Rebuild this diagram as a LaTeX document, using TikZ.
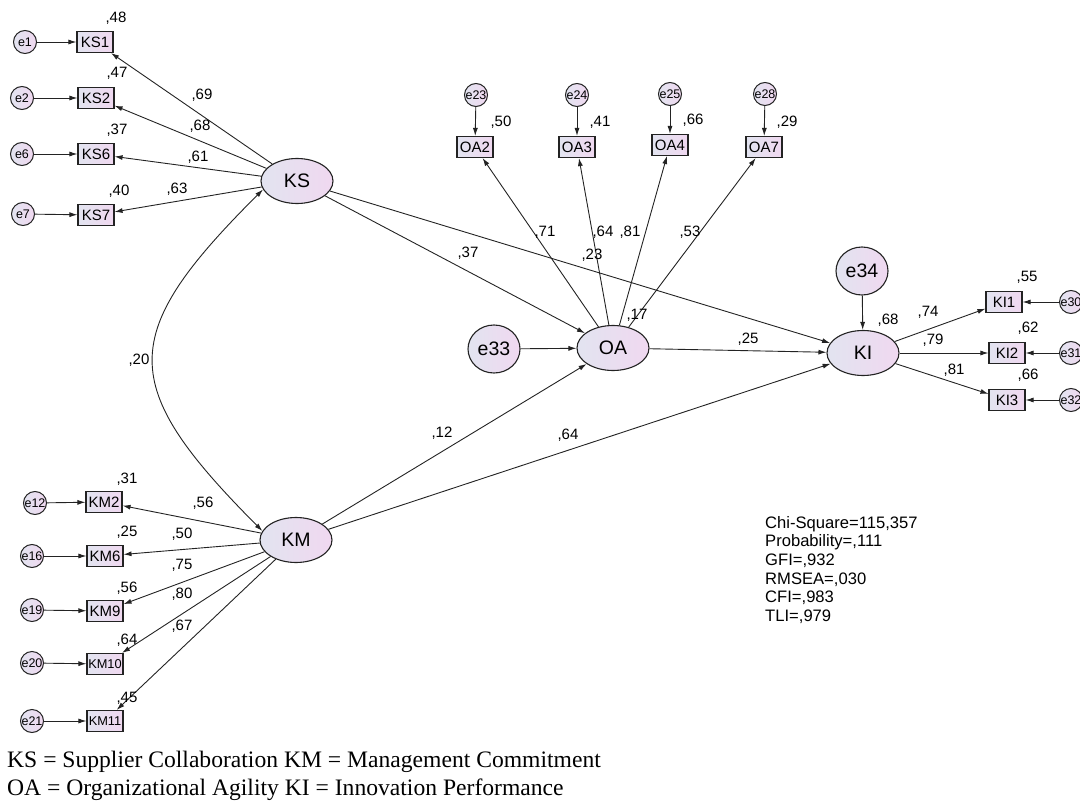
\documentclass[tikz,border=0pt]{standalone}
\usepackage{fontspec}
\setmainfont{Liberation Sans}
\newfontfamily\legfont{Liberation Serif}
\usetikzlibrary{arrows.meta,shapes.geometric}
\definecolor{shL}{RGB}{226,228,240}
\definecolor{shR}{RGB}{240,216,240}
\definecolor{ln}{RGB}{35,35,35}
\begin{document}
\begin{tikzpicture}[x=1pt,y=-1pt,
  lat/.style={ellipse, draw=ln, line width=1.1pt, left color=shL, right color=shR, minimum width=72pt, minimum height=45pt, inner sep=0pt, font=\fontsize{19.5}{19.5}\selectfont},
  err/.style={circle, draw=ln, line width=1pt, left color=shL, right color=shR, minimum size=23pt, inner sep=0pt, font=\fontsize{12.5}{12.5}\selectfont},
  bigerr/.style={ellipse, draw=ln, line width=1.1pt, left color=shL, right color=shR, minimum width=52pt, minimum height=48pt, inner sep=0pt, font=\fontsize{19.5}{19.5}\selectfont},
  ind/.style={rectangle, draw=ln, line width=1.1pt, left color=shL, right color=shR, minimum width=36pt, minimum height=21pt, inner sep=0pt, font=\fontsize{15}{15}\selectfont},
  indsm/.style={ind, font=\fontsize{12.8}{12.8}\selectfont},
  val/.style={inner sep=0pt, font=\fontsize{15}{15}\selectfont},
  arr/.style={-{Latex[length=8pt,width=5pt]}, draw=ln, line width=0.9pt},
  dbl/.style={{Latex[length=8pt,width=5pt]}-{Latex[length=8pt,width=5pt]}, draw=ln, line width=0.9pt},
]
\useasboundingbox (0,0) rectangle (1080,803);

% latent variables
\node[lat] (KS) at (297,181) {KS};
\node[lat] (KM) at (296,540) {KM};
\node[lat] (OA) at (613,348) {OA};
\node[lat] (KI) at (863,353) {KI};
\node[bigerr] (e33) at (494,349) {e33};
\node[bigerr] (e34) at (862,271) {e34};

% KS indicators
\node[ind] (KS1) at (95,42) {KS1};
\node[ind] (KS2) at (96,98) {KS2};
\node[ind] (KS6) at (96,154) {KS6};
\node[ind] (KS7) at (96,215) {KS7};
\node[err] (e1) at (25,42) {e1};
\node[err] (e2) at (22,98) {e2};
\node[err] (e6) at (22,154) {e6};
\node[err] (e7) at (23,214) {e7};

% KM indicators
\node[ind] (KM2) at (104,502) {KM2};
\node[ind] (KM6) at (105,556) {KM6};
\node[ind] (KM9) at (105,611) {KM9};
\node[indsm] (KM10) at (105,664) {KM10};
\node[indsm] (KM11) at (105,721) {KM11};
\node[err] (e12) at (35,503) {e12};
\node[err] (e16) at (32,556) {e16};
\node[err] (e19) at (32,610) {e19};
\node[err] (e20) at (32,663) {e20};
\node[err] (e21) at (32,721) {e21};

% OA indicators
\node[ind] (OA2) at (475,147) {OA2};
\node[ind] (OA3) at (577,147) {OA3};
\node[ind] (OA4) at (670,145) {OA4};
\node[ind] (OA7) at (764,147) {OA7};
\node[err] (e23) at (476,95) {e23};
\node[err] (e24) at (577,95) {e24};
\node[err] (e25) at (670,94) {e25};
\node[err] (e28) at (765,94) {e28};

% KI indicators
\node[ind] (KI1) at (1004,302) {KI1};
\node[ind] (KI2) at (1007,353) {KI2};
\node[ind] (KI3) at (1007,400) {KI3};
\node[err] (e30) at (1071,302) {e30};
\node[err] (e31) at (1071,353) {e31};
\node[err] (e32) at (1071,400) {e32};

% measurement arrows
\foreach \e/\i in {e1/KS1,e2/KS2,e6/KS6,e7/KS7,e12/KM2,e16/KM6,e19/KM9,e20/KM10,e21/KM11,e23/OA2,e24/OA3,e25/OA4,e28/OA7,e30/KI1,e31/KI2,e32/KI3}
  \draw[arr] (\e) -- (\i);
\foreach \i in {KS1,KS2,KS6,KS7}
  \draw[arr] (KS) -- (\i);
\foreach \i in {KM2,KM6,KM9,KM10,KM11}
  \draw[arr] (KM) -- (\i);
\foreach \i in {OA2,OA3,OA4,OA7}
  \draw[arr] (OA) -- (\i);
\foreach \i in {KI1,KI2,KI3}
  \draw[arr] (KI) -- (\i);

% structural arrows
\draw[arr] (KS) -- (OA);
\draw[arr] (KS) -- (KI);
\draw[arr] (KM) -- (OA);
\draw[arr] (KM) -- (KI);
\draw[arr] (OA) -- (KI);
\draw[arr] (e33) -- (OA);
\draw[arr] (e34) -- (KI);

% covariance
\draw[dbl] (KS.194) .. controls (117,335) and (117,385) .. (KM.165);

% values
\node[val] (v1) at (116,18) {,48};
\node[val] (v2) at (117,73) {,47};
\node[val] (v3) at (117,130) {,37};
\node[val] (v4) at (119,191) {,40};
\node[val] (l1) at (202,95) {,69};
\node[val] (l2) at (200,126) {,68};
\node[val] (l3) at (198,157) {,61};
\node[val] (l4) at (177,189) {,63};
\node[val] (c1) at (139,360) {,20};

\node[val] (v5) at (127,479) {,31};
\node[val] (v6) at (127,532) {,25};
\node[val] (v7) at (127,588) {,56};
\node[val] (v8) at (127,640) {,64};
\node[val] (v9) at (127,698) {,45};
\node[val] (l5) at (203,503) {,56};
\node[val] (l6) at (182,534) {,50};
\node[val] (l7) at (182,565) {,75};
\node[val] (l8) at (182,594) {,80};
\node[val] (l9) at (182,626) {,67};

\node[val] (v10) at (501,122) {,50};
\node[val] (v11) at (600,122) {,41};
\node[val] (v12) at (693,120) {,66};
\node[val] (v13) at (787,122) {,29};
\node[val] (l10) at (545,232) {,71};
\node[val] (l11) at (603,232) {,64};
\node[val] (l12) at (630,232) {,81};
\node[val] (l13) at (690,232) {,53};

\node[val] (s1) at (468,253) {,37};
\node[val] (s2) at (592,255) {,23};
\node[val] (s3) at (637,315) {,17};
\node[val] (s4) at (748,339) {,25};
\node[val] (s5) at (442,433) {,12};
\node[val] (s6) at (568,435) {,64};

\node[val] (v14) at (888,320) {,68};
\node[val] (l14) at (928,312) {,74};
\node[val] (l15) at (933,340) {,79};
\node[val] (l16) at (954,370) {,81};
\node[val] (v15) at (1027,277) {,55};
\node[val] (v16) at (1028,328) {,62};
\node[val] (v17) at (1028,375) {,66};

% fit statistics
\node[anchor=north west, align=left, inner sep=0pt, font=\fontsize{16.6}{18.6}\selectfont] (fit) at (765,516)
  {Chi-Square=115,357\\Probability=,111\\GFI=,932\\RMSEA=,030\\CFI=,983\\TLI=,979};

% legend
\node[anchor=base west, inner sep=0pt, font=\legfont\fontsize{23.6}{28}\selectfont] (leg1) at (7,767)
  {KS = Supplier Collaboration KM = Management Commitment};
\node[anchor=base west, inner sep=0pt, font=\legfont\fontsize{23.6}{28}\selectfont] (leg2) at (7,795)
  {OA = Organizational Agility KI = Innovation Performance};
\end{tikzpicture}
\end{document}
